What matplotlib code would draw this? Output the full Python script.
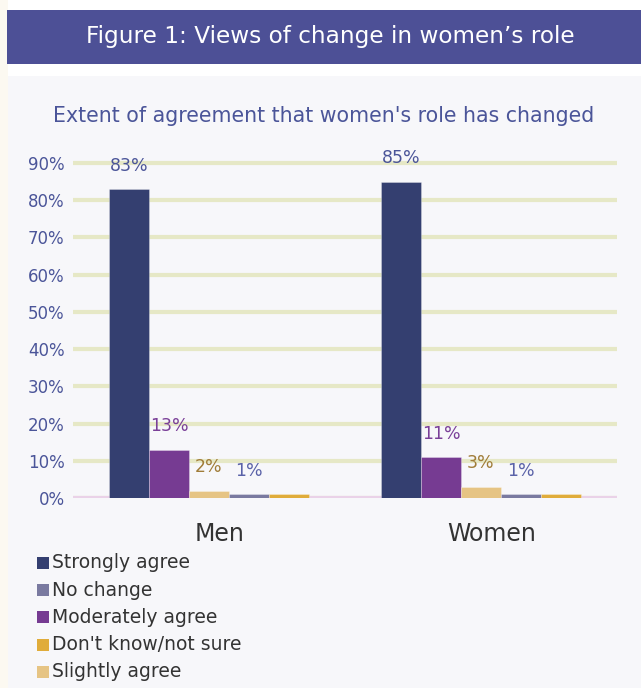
import numpy as np
import matplotlib.pyplot as plt
from matplotlib.patches import Rectangle
from matplotlib.transforms import ScaledTranslation

plt.rcParams['font.family'] = ['DejaVu Sans']

groups = ['Men', 'Women']
series = ['Strongly agree', 'Moderately agree', 'Slightly agree', 'No change', "Don't know/not sure"]
strongly = [83, 85]
moderately = [13, 11]
slightly = [2, 3]
no_change = [1, 1]
dont_know = [1, 1]
values = [strongly, moderately, slightly, no_change, dont_know]
show_label = [True, True, True, True, False]
legend_order = ['Strongly agree', 'No change', 'Moderately agree', "Don't know/not sure", 'Slightly agree']

colors = {
    'Strongly agree': '#343f70',
    'Moderately agree': '#763b92',
    'Slightly agree': '#e6c484',
    'No change': '#7a7aa0',
    "Don't know/not sure": '#e0ac3a',
}
label_colors = {
    'Strongly agree': '#4b5599',
    'Moderately agree': '#7a3f98',
    'Slightly agree': '#a07c38',
    'No change': '#5a62a8',
}

W, H = 641, 688
fig = plt.figure(figsize=(W / 100, H / 100), dpi=100)
fig.patch.set_facecolor('white')

def px(x, y, w, h):
    return [x / W, 1 - (y + h) / H, w / W, h / H]

# background panel and header band
bg = fig.add_axes([0, 0, 1, 1])
bg.set_xlim(0, W)
bg.set_ylim(H, 0)
bg.axis('off')
bg.add_patch(Rectangle((0, 0), 8, H, color='#fcf9f1', lw=0))
bg.add_patch(Rectangle((7, 10), W - 7, 54, color='#4d5096', lw=0))
bg.add_patch(Rectangle((8, 76), W - 8, H - 76, color='#f7f7fa', lw=0))
bg.text(330, 36, 'Figure 1: Views of change in women\u2019s role', color='white',
        fontsize=16.7, ha='center', va='center')
bg.text(324, 116, "Extent of agreement that women's role has changed", color='#4b5599',
        fontsize=14.8, ha='center', va='center')

# bar chart
y0, y90 = 498, 163
ppu = (y0 - y90) / 90
ytop = 95
ax = fig.add_axes(px(73, y0 - ytop * ppu, 544, ytop * ppu))
ax.set_facecolor('none')
ax.set_xlim(-0.5, 1.5)
ax.set_ylim(0, ytop)
x = np.arange(len(groups))
bw = 0.147
for i, s in enumerate(series):
    pos = x + (i - 2) * bw
    ax.bar(pos, values[i], bw, color=colors[s], edgecolor='#ffffff55', lw=0.6, zorder=3)
    if show_label[i]:
        for p, v in zip(pos, values[i]):
            ax.text(p, v + 6.3, f'{v}%', ha='center', va='center', fontsize=12.5,
                    color=label_colors[s], zorder=4)

ax.set_yticks(range(0, 91, 10))
ax.set_yticklabels([f'{t}%' for t in range(0, 91, 10)], color='#4b5599', fontsize=12)
ax.yaxis.grid(True, color='#e6e8c6', lw=3, zorder=0)
ax.axhline(0, color='#ead2e8', lw=3, zorder=2)
ax.tick_params(axis='y', length=0, pad=6)
ax.set_xticks(x)
ax.set_xticklabels(groups, fontsize=17, color='#333333')
ax.tick_params(axis='x', length=0, pad=17)
shift = ScaledTranslation(0.11, 0, fig.dpi_scale_trans)
for lbl in ax.get_xticklabels():
    lbl.set_transform(lbl.get_transform() + shift)
for sp in ax.spines.values():
    sp.set_visible(False)

# legend, one row per entry
for k, s in enumerate(legend_order):
    yy = 563 + k * 27.2
    bg.add_patch(Rectangle((37, yy - 6), 12, 12, color=colors[s], lw=0))
    bg.text(52, yy, s, fontsize=13.5, color='#333333', va='center', ha='left')

fig.savefig('out.png', dpi=100)
